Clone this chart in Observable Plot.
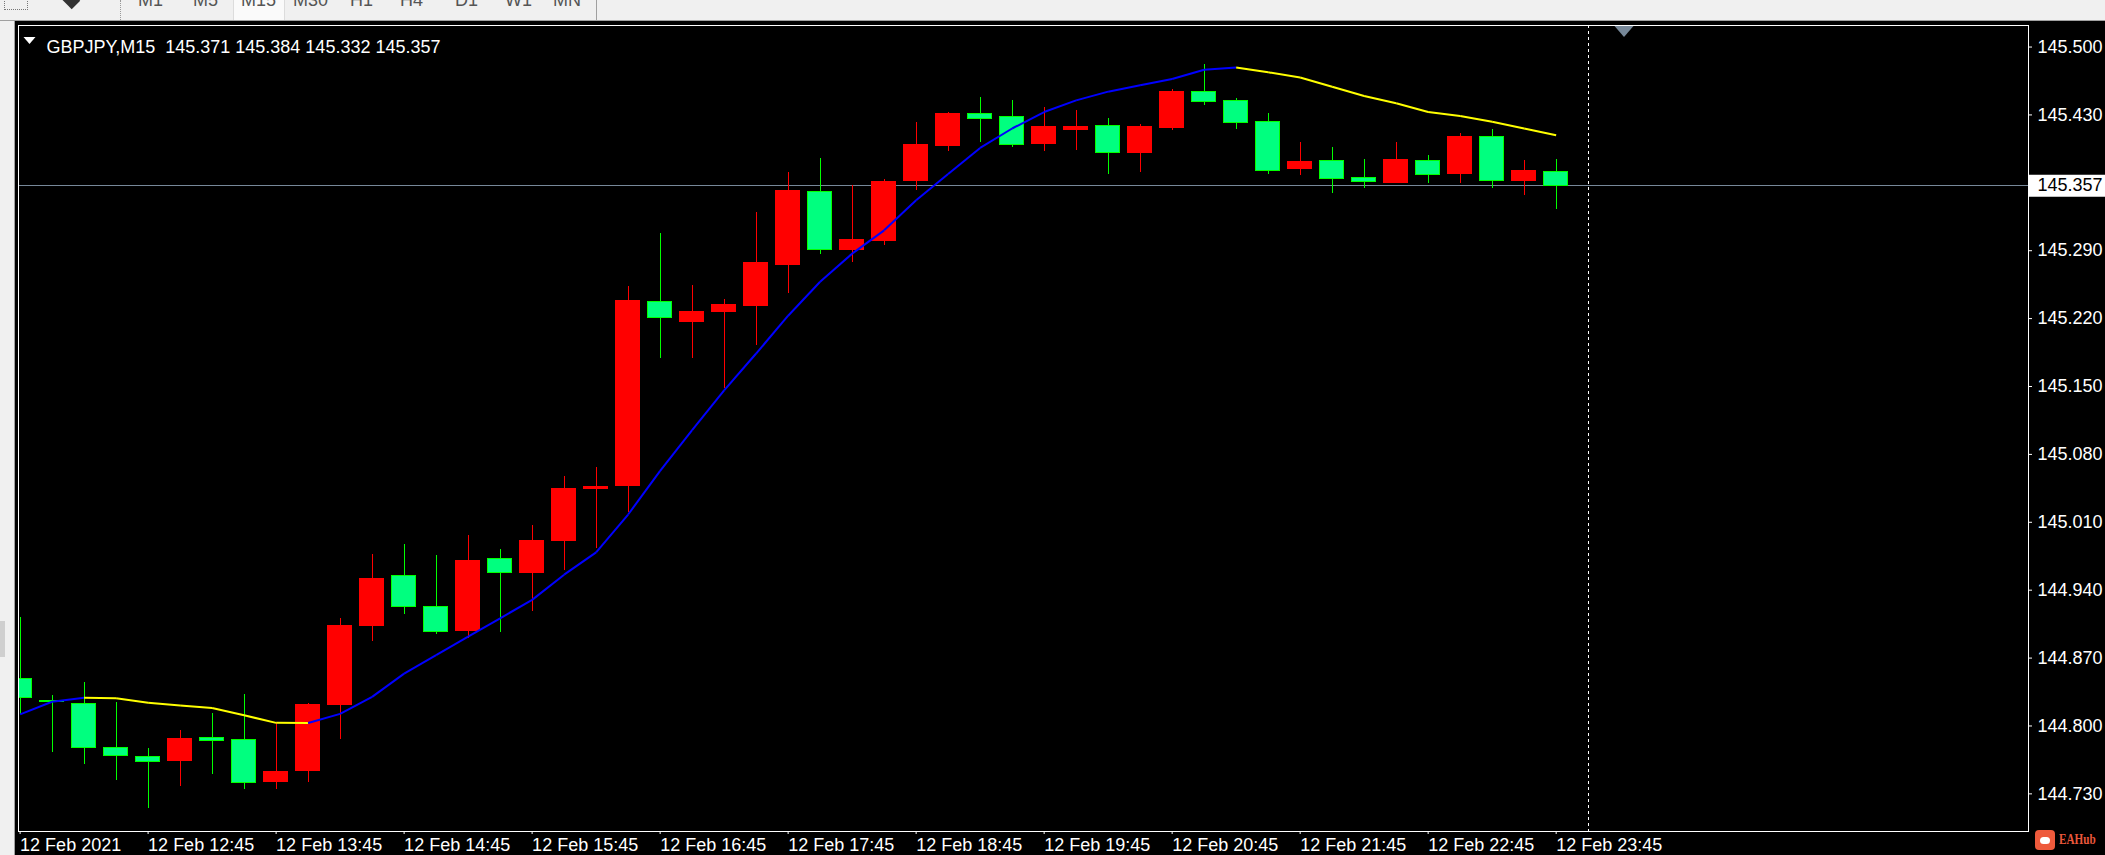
<!DOCTYPE html>
<html>
<head>
<meta charset="utf-8">
<script src="https://cdn.jsdelivr.net/npm/d3@7"></script>
<script src="https://cdn.jsdelivr.net/npm/@observablehq/plot@0.6"></script>
<style>
body{margin:0;background:#000;overflow:hidden}
#wrap{position:relative;width:2105px;height:855px;font-family:"Liberation Sans",Arial,sans-serif}
#chart{position:absolute;left:0;top:0}
#toolbar{position:absolute;left:0;top:0;width:2105px;height:20px;background:#f0f0f0;border-bottom:1px solid #a0a0a0;overflow:hidden}
#toolbar span{position:absolute;top:-9px;font-size:18px;line-height:18px;color:#555}
#toolbar .sel{position:absolute;left:233px;top:-1px;width:50px;height:20px;background:#fafafa;border:1px solid #dcdcdc}
#toolbar .sep{position:absolute;top:0;width:0;height:20px;border-left:1px dotted #999}
#leftbar{position:absolute;left:0;top:21px;width:14px;height:834px;background:#f0f0f0;border-right:1px solid #a0a0a0}
#thumb{position:absolute;left:0;top:600px;width:5px;height:36px;background:#cfcfcf}
#logo{position:absolute;left:2035px;top:830px;height:20px;width:70px;overflow:hidden}
#logo .ic{position:absolute;left:0;top:0;width:20px;height:20px;border-radius:4px;background:#ee5a3c}
#logo .ic i{position:absolute;left:5px;top:7px;width:10px;height:7px;border-radius:4px;background:#fff}
#logo b{position:absolute;left:24px;top:2px;font:bold 14px/16px "Liberation Serif",serif;color:#e9573b;transform:scaleX(0.8);transform-origin:0 0;white-space:nowrap}
</style>
</head>
<body>
<div id="wrap">
  <div id="chart"></div>
  <div id="toolbar">
    <div style="position:absolute;left:4px;top:-10px;width:22px;height:18px;border:1px dotted #777"></div>
    <div style="position:absolute;left:64px;top:-6px;width:14px;height:12px;background:#333;transform:rotate(45deg)"></div>
    <div class="sep" style="left:120px"></div>
    <div class="sel"></div>
    <span style="left:138px">M1</span>
    <span style="left:193px">M5</span>
    <span style="left:241px">M15</span>
    <span style="left:293px">M30</span>
    <span style="left:350px">H1</span>
    <span style="left:400px">H4</span>
    <span style="left:455px">D1</span>
    <span style="left:505px">W1</span>
    <span style="left:553px">MN</span>
    <div class="sep" style="left:596px;border-left:1px solid #a0a0a0"></div>
  </div>
  <div id="leftbar"><div id="thumb"></div></div>
  <div id="logo"><div class="ic"><i></i></div><b>EAHub</b></div>
</div>
<script>
// GBPJPY M15, 12 Feb 2021 11:45 .. 23:45 (49 bars)
const open = [144.848,144.826,144.823,144.777,144.768,144.764,144.788,144.786,144.742,144.754,144.822,144.903,144.955,144.923,144.898,144.972,144.958,144.991,145.044,145.047,145.237,145.217,145.227,145.233,145.275,145.351,145.291,145.300,145.362,145.398,145.431,145.428,145.400,145.414,145.419,145.391,145.417,145.454,145.444,145.423,145.374,145.382,145.365,145.360,145.383,145.369,145.407,145.362,145.371];
const high = [144.912,144.831,144.845,144.824,144.777,144.795,144.813,144.832,144.803,144.823,144.911,144.977,144.987,144.976,144.996,144.982,145.007,145.057,145.067,145.253,145.308,145.254,145.240,145.329,145.371,145.385,145.357,145.363,145.422,145.433,145.448,145.445,145.438,145.435,145.426,145.420,145.456,145.482,145.447,145.431,145.402,145.396,145.384,145.402,145.388,145.411,145.415,145.383,145.384];
const low = [144.812,144.773,144.760,144.744,144.715,144.738,144.750,144.734,144.735,144.742,144.786,144.887,144.915,144.894,144.890,144.896,144.918,144.960,144.983,145.020,145.179,145.179,145.148,145.192,145.246,145.286,145.278,145.295,145.352,145.392,145.402,145.396,145.392,145.393,145.369,145.371,145.414,145.440,145.415,145.369,145.368,145.349,145.354,145.359,145.359,145.359,145.354,145.347,145.332];
const close = [144.829,144.825,144.777,144.769,144.763,144.787,144.784,144.741,144.753,144.822,144.903,144.952,144.923,144.897,144.970,144.958,144.991,145.044,145.046,145.238,145.221,145.227,145.234,145.277,145.352,145.291,145.301,145.361,145.399,145.431,145.426,145.399,145.418,145.418,145.391,145.418,145.454,145.443,145.422,145.372,145.381,145.364,145.361,145.384,145.368,145.407,145.362,145.372,145.357];
// moving average (blue rising, yellow falling)
const ma = [144.812,144.825,144.829,144.8287,144.824,144.821,144.8185,144.811,144.8032,144.803,144.8125,144.830,144.854,144.873,144.892,144.911,144.930,144.956,144.979,145.018,145.063,145.105,145.146,145.184,145.223,145.258,145.287,145.311,145.342,145.369,145.396,145.416,145.433,145.445,145.454,145.4605,145.467,145.4765,145.479,145.474,145.4685,145.459,145.4495,145.442,145.433,145.429,145.423,145.416,145.409];

const xTicks = [0,4,8,12,16,20,24,28,32,36,40,44,48];
const xLabels = ["12 Feb 2021","12 Feb 12:45","12 Feb 13:45","12 Feb 14:45","12 Feb 15:45","12 Feb 16:45","12 Feb 17:45","12 Feb 18:45","12 Feb 19:45","12 Feb 20:45","12 Feb 21:45","12 Feb 22:45","12 Feb 23:45"];
const yTicks = [145.500,145.430,145.290,145.220,145.150,145.080,145.010,144.940,144.870,144.800,144.730];
const bid = 145.357;
const separatorBar = 49;   // start of 13 Feb
const shiftMark = 50.12;

const idx = d3.range(open.length);
const bull = i => close[i] > open[i];
const last = open.length - 1;
const xMax = 62.76;
const f3 = d3.format(".3f");

const segs = idx.slice(1).map(i => ({a: i - 1, b: i, up: ma[i] > ma[i - 1]}));

const downTri = {draw(ctx) { ctx.moveTo(-9.5, -5.5); ctx.lineTo(9.5, -5.5); ctx.lineTo(0, 5.5); ctx.closePath(); }};
const smallTri = {draw(ctx) { ctx.moveTo(-6, -3.5); ctx.lineTo(6, -3.5); ctx.lineTo(0, 3.5); ctx.closePath(); }};

const chart = Plot.plot({
  width: 2105,
  height: 855,
  marginLeft: 18,
  marginRight: 77,
  marginTop: 25,
  marginBottom: 24,
  style: {background: "#000", color: "#fff", fontFamily: "'Liberation Sans', Arial, sans-serif", fontSize: "18px"},
  x: {domain: [-0.05, xMax]},
  y: {domain: [144.6912, 145.5222]},
  marks: [
    Plot.ruleY([bid], {stroke: "#778899", strokeWidth: 1, shapeRendering: "crispEdges"}),
    Plot.ruleX([separatorBar], {stroke: "#fff", strokeDasharray: "3,3", shapeRendering: "crispEdges"}),
    Plot.ruleX(idx, {x: i => i, y1: i => low[i], y2: i => high[i],
      stroke: i => bull(i) ? "#ff0000" : "#00ff00", shapeRendering: "crispEdges", clip: true}),
    Plot.rect(idx, {x1: i => i - 0.375, x2: i => i + 0.375, y1: i => open[i], y2: i => close[i],
      fill: i => bull(i) ? "#ff0000" : "#00ff7f", stroke: i => bull(i) ? "#ff0000" : "#00ff00",
      strokeWidth: 1, shapeRendering: "crispEdges", clip: true}),
    Plot.link(segs, {x1: d => d.a, y1: d => ma[d.a], x2: d => d.b, y2: d => ma[d.b],
      stroke: d => d.up ? "#0000ff" : "#ffff00", strokeWidth: 2, clip: true}),
    Plot.frame({stroke: "#fff", shapeRendering: "crispEdges"}),
    Plot.axisY(yTicks, {anchor: "right", tickSize: 3, tickPadding: 6, tickFormat: f3, label: null,
      stroke: "#fff", fill: "#fff"}),
    Plot.axisX(xTicks, {anchor: "bottom", tickSize: 3, tickPadding: 4, label: null, textAnchor: "start",
      tickFormat: d => xLabels[xTicks.indexOf(d)], stroke: "#fff", fill: "#fff"}),
    // current price box on the scale
    Plot.ruleY([bid], {x1: xMax + 0.03, x2: xMax + 3, stroke: "#fff", strokeWidth: 22}),
    Plot.text([bid], {y: d => d, frameAnchor: "right", dx: 9, textAnchor: "start", fill: "#000", text: d => f3(d)}),
    // chart shift marker
    Plot.dot([shiftMark], {x: d => d, frameAnchor: "top", dy: 6, symbol: downTri, r: 5, fill: "#778899", stroke: null}),
    // symbol header
    Plot.dot([0], {frameAnchor: "top-left", dx: 11, dy: 15, symbol: smallTri, r: 4, fill: "#fff", stroke: null}),
    Plot.text([`GBPJPY,M15\u00a0 ${f3(open[last])} ${f3(high[last])} ${f3(low[last])} ${f3(close[last])}`],
      {frameAnchor: "top-left", dx: 28, dy: 15, textAnchor: "start", fill: "#fff"})
  ]
});

document.getElementById("chart").append(chart);
</script>
</body>
</html>
